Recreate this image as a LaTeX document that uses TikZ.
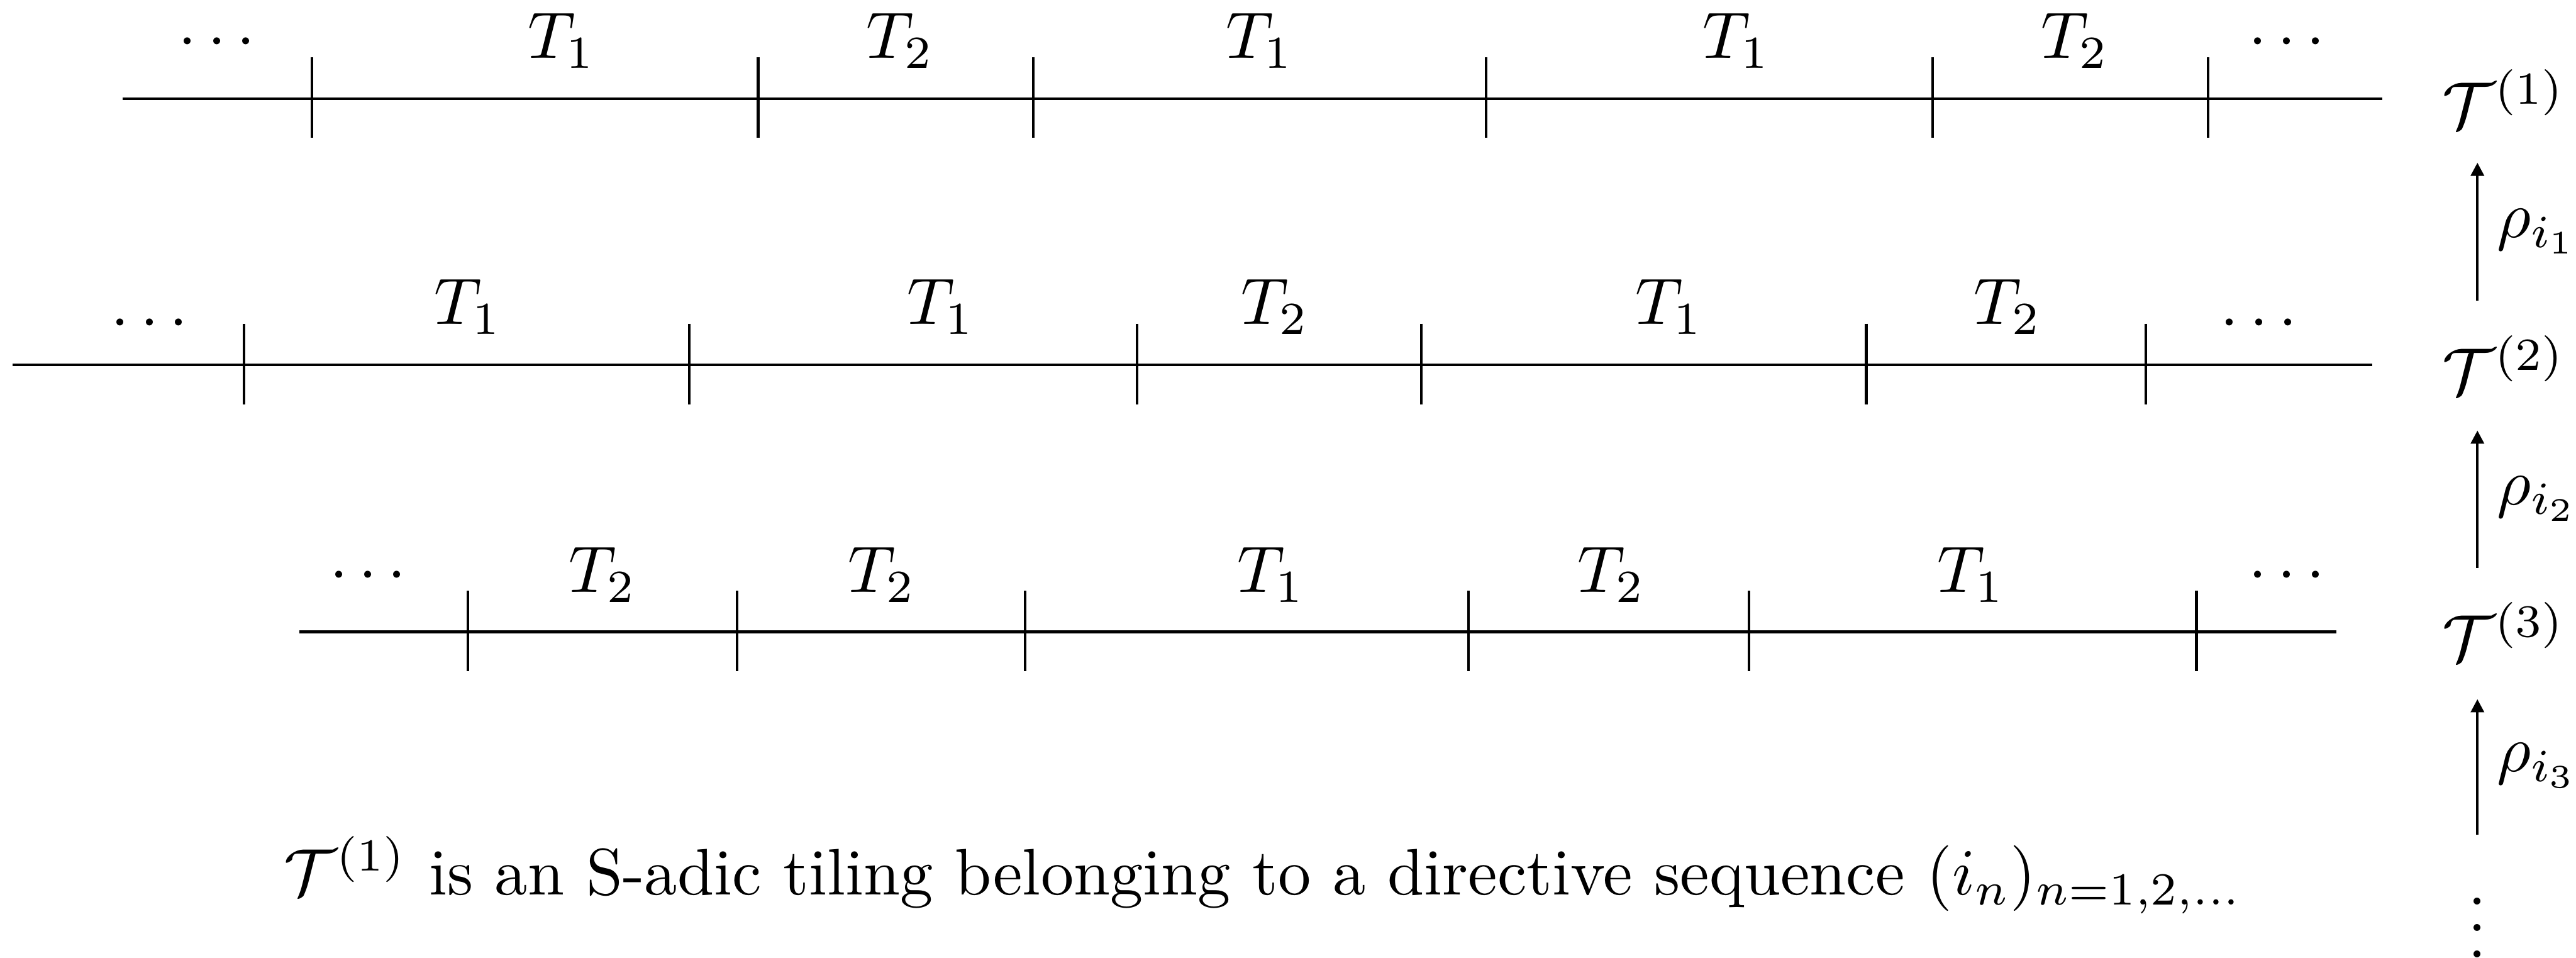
\documentclass[tikz,border=0pt]{standalone}
\usetikzlibrary{arrows.meta}
\begin{document}
\begin{tikzpicture}[x=0.25pt,y=-0.25pt,
  lbl/.style={anchor=base,inner sep=0pt},
  tickline/.style={line width=0.4pt},
  baseline/.style={line width=0.4pt},
  maparrow/.style={line width=0.4pt,-{Triangle[length=2pt,width=2pt]}},
  rowname/.style={anchor=west,inner sep=0pt},
  maplbl/.style={anchor=base west,inner sep=0pt}]
\useasboundingbox (0,0) rectangle (1568,583);

% ---------- row 1 ----------
\coordinate (r1s) at (74.6,60);
\coordinate (r1e) at (1450,60);
\draw[baseline] (r1s) -- (r1e);
\foreach \x [count=\i] in {190,461.5,629,904.5,1176.5,1344}{
  \coordinate (r1t\i) at (\x,60);
  \draw[tickline] ([yshift=6.25pt]r1t\i) -- ([yshift=-6pt]r1t\i);
}
\node[lbl] (r1d1) at (132,35) {$\cdots$};
\node[lbl] (r1a) at (342,35.5) {$T_1$};
\node[lbl] (r1b) at (548,35.5) {$T_2$};
\node[lbl] (r1c) at (767,35.5) {$T_1$};
\node[lbl] (r1d) at (1057,35.5) {$T_1$};
\node[lbl] (r1e2) at (1263,35.5) {$T_2$};
\node[lbl] (r1d2) at (1392,35) {$\cdots$};
\node[rowname] (n1) at (1486,60) {$\mathcal{T}^{(1)}$};

% ---------- row 2 ----------
\coordinate (r2s) at (7.6,222);
\coordinate (r2e) at (1444,222);
\draw[baseline] (r2s) -- (r2e);
\foreach \x [count=\i] in {148.6,419.7,692,865,1136,1306}{
  \coordinate (r2t\i) at (\x,222);
  \draw[tickline] ([yshift=6.25pt]r2t\i) -- ([yshift=-6pt]r2t\i);
}
\node[lbl] (r2d1) at (91,206) {$\cdots$};
\node[lbl] (r2a) at (285,197.5) {$T_1$};
\node[lbl] (r2b) at (573,197.5) {$T_1$};
\node[lbl] (r2c) at (776,197.5) {$T_2$};
\node[lbl] (r2d) at (1016,197.5) {$T_1$};
\node[lbl] (r2e2) at (1222,197.5) {$T_2$};
\node[lbl] (r2d2) at (1375,206) {$\cdots$};
\node[rowname] (n2) at (1486,222) {$\mathcal{T}^{(2)}$};

% ---------- row 3 ----------
\coordinate (r3s) at (182.4,384.5);
\coordinate (r3e) at (1422,384.5);
\draw[baseline] (r3s) -- (r3e);
\foreach \x [count=\i] in {284.7,448.5,624,894,1064.5,1337}{
  \coordinate (r3t\i) at (\x,384.5);
  \draw[tickline] ([yshift=6.25pt]r3t\i) -- ([yshift=-6pt]r3t\i);
}
\node[lbl] (r3d1) at (224,359.7) {$\cdots$};
\node[lbl] (r3a) at (367,360.5) {$T_2$};
\node[lbl] (r3b) at (537,360.5) {$T_2$};
\node[lbl] (r3c) at (774,360.5) {$T_1$};
\node[lbl] (r3d) at (981,360.5) {$T_2$};
\node[lbl] (r3e2) at (1200,360.5) {$T_1$};
\node[lbl] (r3d2) at (1392,359.7) {$\cdots$};
\node[rowname] (n3) at (1486,384.5) {$\mathcal{T}^{(3)}$};

% ---------- maps ----------
\coordinate (a1b) at (1508,183);
\coordinate (a1t) at (1508,99);
\coordinate (a2b) at (1508,345.5);
\coordinate (a2t) at (1508,262);
\coordinate (a3b) at (1508,508);
\coordinate (a3t) at (1508,425.5);
\draw[maparrow] (a1b) -- (a1t);
\draw[maparrow] (a2b) -- (a2t);
\draw[maparrow] (a3b) -- (a3t);
\node[maplbl] (m1) at (1519,144.5) {$\rho_{i_1}$};
\node[maplbl] (m2) at (1519,307) {$\rho_{i_2}$};
\node[maplbl] (m3) at (1519,469.5) {$\rho_{i_3}$};
\node[lbl] (vd) at (1508,582.8) {$\vdots$};

% ---------- caption ----------
\node[lbl] (cap) at (769,544.5) {$\mathcal{T}^{(1)}$ is an S-adic tiling belonging to a directive sequence $(i_n)_{n=1,2,\ldots}$};
\end{tikzpicture}
\end{document}
